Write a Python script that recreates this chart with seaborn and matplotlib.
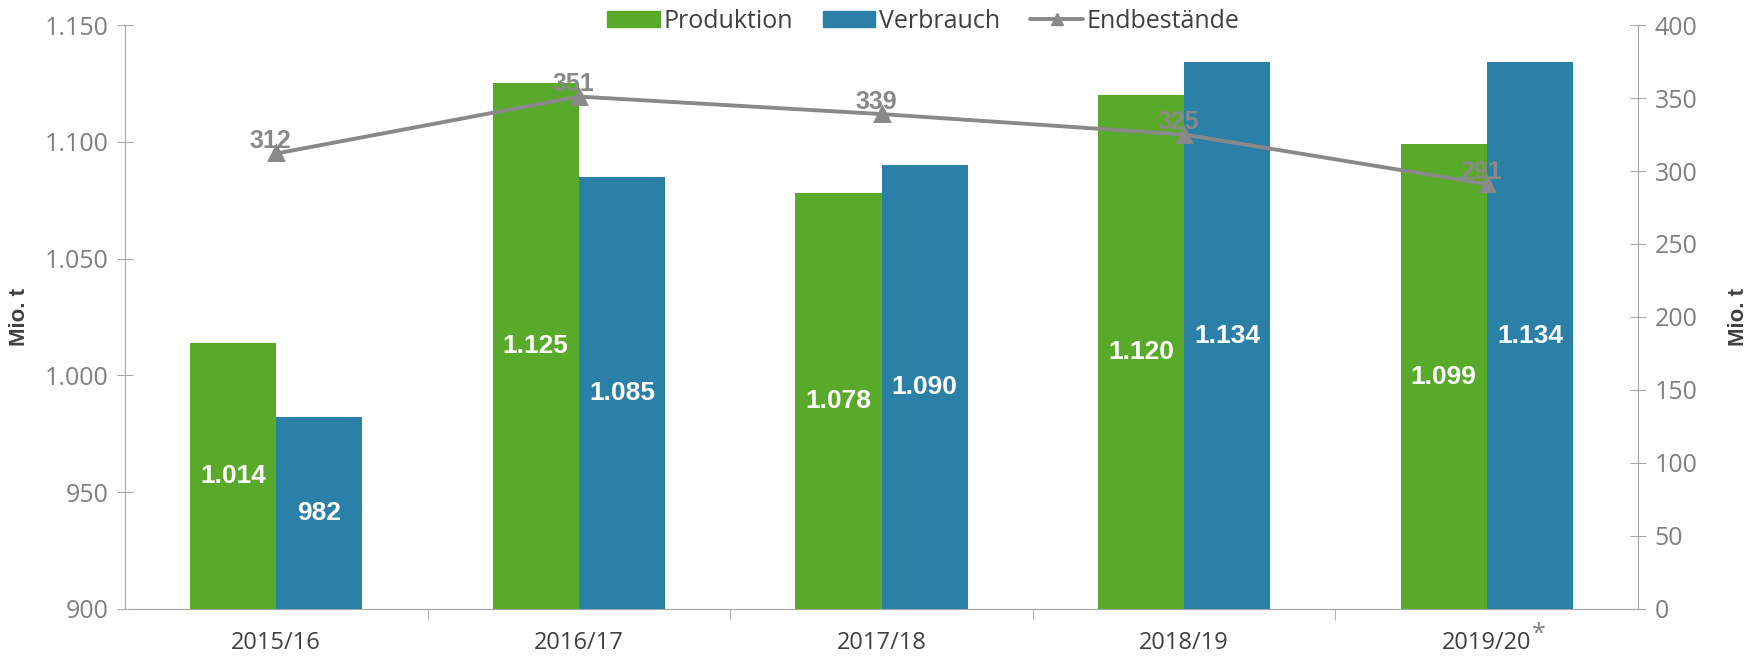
import pandas as pd
import numpy as np
import matplotlib.pyplot as plt
import seaborn as sns
from matplotlib.patches import Patch
from matplotlib.lines import Line2D

# Values (Mio. t)
jahre = ['2015/16', '2016/17', '2017/18', '2018/19', '2019/20']
produktion = [1014, 1125, 1078, 1120, 1099]
verbrauch = [982, 1085, 1090, 1134, 1134]
endbestaende = [312, 351, 339, 325, 291]

left_ticks = [900, 950, 1000, 1050, 1100, 1150]
right_ticks = [0, 50, 100, 150, 200, 250, 300, 350, 400]

GREEN = '#59A92A'
BLUE = '#2B80A8'
GREY_LINE = '#898989'
AXIS_GREY = '#A6A6A6'
TICK_GREY = '#808080'
DARK = '#404040'


def de_fmt(v):
    # German thousands separator
    return f'{v:,.0f}'.replace(',', '.')


sns.set_style('white')
plt.rcParams['font.family'] = ['Open Sans', 'DejaVu Sans']

bars = pd.DataFrame({
    'Jahr': jahre * 2,
    'Wert': produktion + verbrauch,
    'Reihe': ['Produktion'] * len(jahre) + ['Verbrauch'] * len(jahre),
})

fig = plt.figure(figsize=(17.52, 6.59), dpi=100)
ax = fig.add_axes([0.0713, 0.076, 0.935 - 0.0713, 0.962 - 0.076])

sns.barplot(data=bars, x='Jahr', y='Wert', hue='Reihe', order=jahre,
            palette={'Produktion': GREEN, 'Verbrauch': BLUE},
            width=0.57, gap=0, linewidth=0, saturation=1, ax=ax, legend=False)

ax.set_ylim(900, 1150)
ax.set_xlim(-0.5, len(jahre) - 0.5)
ax.set_yticks(left_ticks)
ax.set_yticklabels([de_fmt(t) for t in left_ticks])

# white value labels in the middle of the visible part of each bar
ymin = ax.get_ylim()[0]
for p in ax.patches:
    h = p.get_height()
    if h <= 0:
        continue
    ax.text(p.get_x() + p.get_width() / 2, (ymin + h) / 2, de_fmt(h),
            ha='center', va='center', color='white', fontsize=19,
            fontweight='bold', family=['Liberation Sans', 'DejaVu Sans'])

# secondary axis: Endbestände
ax2 = ax.twinx()
line_df = pd.DataFrame({'Jahr': jahre, 'Bestand': endbestaende})
sns.pointplot(data=line_df, x='Jahr', y='Bestand', order=jahre, color=GREY_LINE,
              markers='^', markersize=10, linewidth=2.8, errorbar=None, ax=ax2)
ax2.set_ylim(0, 400)
ax2.set_yticks(right_ticks)
ax2.set_xlim(-0.5, len(jahre) - 0.5)
for i, v in enumerate(endbestaende):
    ax2.annotate(str(v), (i, v), xytext=(-4, 9), textcoords='offset points',
                 ha='center', va='center', color=GREY_LINE, fontsize=18,
                 fontweight='bold',
                 family=['Liberation Sans Narrow', 'Liberation Sans', 'DejaVu Sans'])

# axes styling
for a in (ax, ax2):
    for s in a.spines.values():
        s.set_visible(False)
    a.set_xlabel('')
    a.set_ylabel('')

ax.spines['left'].set_visible(True)
ax.spines['left'].set_color(AXIS_GREY)
ax.spines['bottom'].set_visible(True)
ax.spines['bottom'].set_color(AXIS_GREY)
ax2.spines['right'].set_visible(True)
ax2.spines['right'].set_color(AXIS_GREY)

ax.tick_params(axis='y', direction='inout', length=12, color=AXIS_GREY,
               labelcolor=TICK_GREY, labelsize=18, pad=6, left=True)
ax2.tick_params(axis='y', direction='inout', length=12, color=AXIS_GREY,
                labelcolor=TICK_GREY, labelsize=18, pad=6, right=True)

# category labels, tick marks between the groups
ax.set_xticks(range(len(jahre)))
ax.set_xticklabels(jahre)
ax.set_xticks(np.arange(0.5, len(jahre) - 0.5), minor=True)
ax.tick_params(axis='x', which='major', length=0, labelcolor=DARK,
               labelsize=17, pad=16)
ax.tick_params(axis='x', which='minor', direction='out', length=8,
               color=AXIS_GREY, bottom=True)
ax2.tick_params(axis='x', which='both', length=0, labelbottom=False)

# asterisk on the last year
last = ax.get_xticklabels()[-1]
ax.annotate('*', xy=(1, 1), xycoords=last, xytext=(0, -2),
            textcoords='offset points', ha='left', va='center',
            color=TICK_GREY, fontsize=18)

ax.set_ylabel('Mio. t', color=DARK, fontsize=16, fontweight='bold',
              family=['Liberation Sans Narrow', 'Liberation Sans'], labelpad=10)
ax2.set_ylabel('Mio. t', color=DARK, fontsize=16, fontweight='bold',
               family=['Liberation Sans Narrow', 'Liberation Sans'],
               rotation=90, labelpad=22)

# legend at the top
handles = [Patch(color=GREEN), Patch(color=BLUE),
           Line2D([], [], color=GREY_LINE, lw=2.8, marker='^', markersize=9)]
fig.legend(handles, ['Produktion', 'Verbrauch', 'Endbestände'],
           loc='center', bbox_to_anchor=(0.527, 0.968), ncol=3, frameon=False,
           fontsize=18, labelcolor=DARK, handlelength=2.1, handleheight=0.6,
           handletextpad=0.15, columnspacing=1.2)

plt.savefig('out.png', dpi=100)
